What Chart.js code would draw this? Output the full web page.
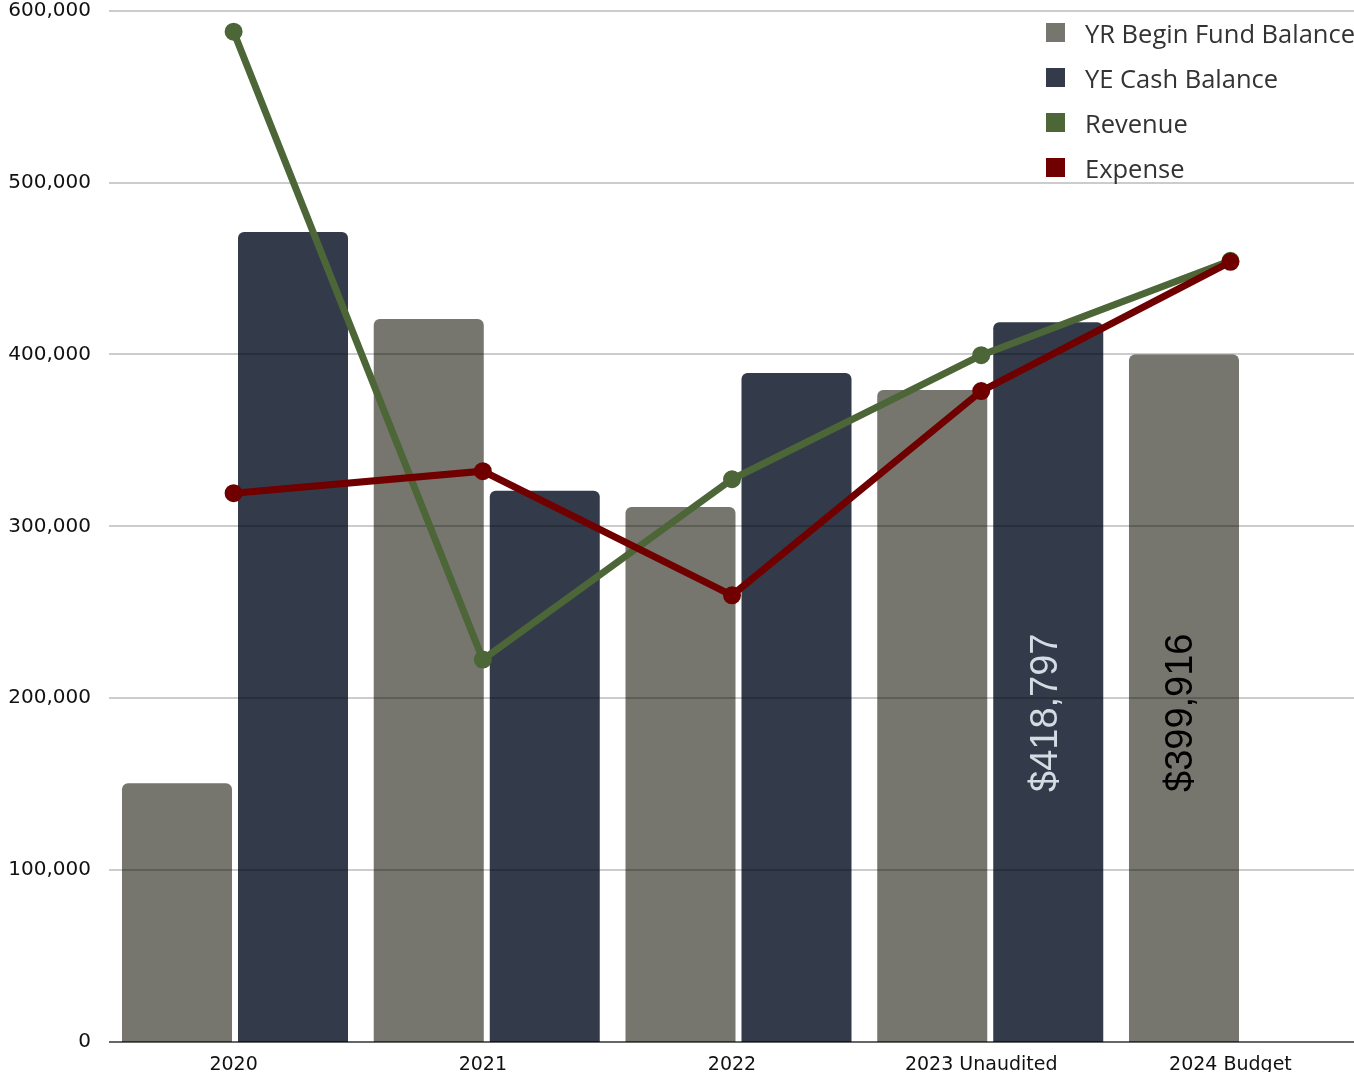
<!DOCTYPE html>
<html>
<head>
<meta charset="utf-8">
<title>Fund Balance</title>
<script src="https://cdn.jsdelivr.net/npm/chart.js@4.4.1/dist/chart.umd.min.js"></script>
<style>
  html, body { margin: 0; padding: 0; background: #fff; overflow: hidden; }
  #wrap { position: relative; width: 1354px; height: 1072px; overflow: hidden; }
  #chart { position: absolute; left: 0; top: 0; }
  #legend { position: absolute; left: 1046px; top: 10px; margin: 0; padding: 0; list-style: none;
            font-family: "Open Sans", sans-serif; font-size: 25.5px; color: #333; }
  #legend li { height: 45px; display: flex; align-items: center; white-space: nowrap; }
  #legend .box { width: 19px; height: 19px; margin-right: 20px; flex: none; }
</style>
</head>
<body>
<div id="wrap">
  <canvas id="chart" width="1368" height="1072"></canvas>
  <ul id="legend"></ul>
</div>
<script>
const years = ["2020", "2021", "2022", "2023 Unaudited", "2024 Budget"];
const beginFund = [150600, 420600, 311200, 379300, 399916];
const cashBalance = [471200, 320700, 389200, 418797, null];
const revenue = [587800, 222500, 327400, 399600, 454500];
const expense = [319300, 332100, 259900, 378700, 453900];
const yTicks = [0, 100000, 200000, 300000, 400000, 500000, 600000];

const colors = {
    begin: "#76766f",
    cash: "#333b4b",
    revenue: "#4c6638",
    expense: "#700000"
};

// bars that carry their value written upward inside them
const valueLabels = [
    { dataset: 1, index: 3, color: "#d3dbe3" },
    { dataset: 0, index: 4, color: "#000000" }
];

let ctx = document.getElementById("chart").getContext("2d");
Chart.defaults.font.family = "'DejaVu Sans', sans-serif";
Chart.defaults.color = "#111";

// every series sits on a numeric year-index axis; each bar series gets its own shifted axis
function indexed(values) {
    return values.map((v, i) => ({ x: i, y: v }));
}

// one integer tick per year
function yearTicks(axis) {
    axis.ticks = years.map((_, i) => ({ value: i }));
}

// a year-index axis that stays invisible and takes no room
function hiddenAxis(min, max) {
    return {
        type: "linear",
        position: "bottom",
        offset: false,
        min: min,
        max: max,
        grid: { display: false, drawTicks: false },
        border: { display: false },
        ticks: { display: false },
        afterBuildTicks: yearTicks,
        afterFit(axis) { axis.height = 0; }
    };
}

// value labels and horizontal rules go over the bars but under the lines
const overlay = {
    id: "overlay",
    afterDatasetDraw(chart, args) {
        if (args.index !== 0) return;
        const c = chart.ctx;
        const area = chart.chartArea;
        const y = chart.scales.y;

        c.save();
        c.font = "38px 'Liberation Sans', sans-serif";
        c.textAlign = "left";
        c.textBaseline = "middle";
        valueLabels.forEach((lab) => {
            const bar = chart.getDatasetMeta(lab.dataset).data[lab.index];
            const value = chart.data.datasets[lab.dataset].data[lab.index].y;
            c.save();
            c.translate(bar.x - 2, y.getPixelForValue(0) - 250);
            c.rotate(-Math.PI / 2);
            c.fillStyle = lab.color;
            c.fillText("$" + value.toLocaleString("en-US"), 0, 0);
            c.restore();
        });

        c.lineWidth = 2;
        yTicks.forEach((v) => {
            const py = Math.round(y.getPixelForValue(v));
            c.strokeStyle = v === 0 ? "rgba(0,0,0,0.6)" : "rgba(0,0,0,0.2)";
            c.beginPath();
            c.moveTo(area.left, py);
            c.lineTo(area.right, py);
            c.stroke();
        });
        c.restore();
    }
};

const barStyle = {
    order: 2,
    grouped: false,
    categoryPercentage: 0.437,
    barPercentage: 1,
    borderRadius: { topLeft: 6, topRight: 6 },
    borderSkipped: "start"
};

const lineStyle = {
    type: "line",
    xAxisID: "xl",
    borderWidth: 7,
    pointRadius: 8,
    pointBorderWidth: 2,
    tension: 0
};

const chart = new Chart(ctx, {
    type: "bar",
    data: {
        labels: years,
        datasets: [
            Object.assign({
                label: "YR Begin Fund Balance",
                data: indexed(beginFund),
                backgroundColor: colors.begin,
                xAxisID: "xg"
            }, barStyle),
            Object.assign({
                label: "YE Cash Balance",
                data: indexed(cashBalance),
                backgroundColor: colors.cash,
                xAxisID: "xn"
            }, barStyle),
            Object.assign({
                label: "Revenue",
                data: indexed(revenue),
                borderColor: colors.revenue,
                backgroundColor: colors.revenue,
                pointBackgroundColor: colors.revenue,
                order: 1
            }, lineStyle),
            Object.assign({
                label: "Expense",
                data: indexed(expense),
                borderColor: colors.expense,
                backgroundColor: colors.expense,
                pointBackgroundColor: colors.expense,
                order: 0
            }, lineStyle)
        ]
    },
    options: {
        responsive: false,
        animation: false,
        layout: { padding: 0, autoPadding: false },
        plugins: {
            legend: { display: false },
            tooltip: { enabled: false }
        },
        scales: {
            xg: hiddenAxis(-0.2701, 4.7309),
            xn: hiddenAxis(-0.7309, 4.2701),
            xl: {
                type: "linear",
                position: "bottom",
                offset: false,
                min: -0.5,
                max: 4.552,
                grid: { display: false, drawTicks: false },
                border: { display: false },
                afterBuildTicks: yearTicks,
                ticks: {
                    padding: 12,
                    font: { size: 19 },
                    maxRotation: 0,
                    autoSkip: false,
                    callback: (value) => years[value]
                },
                afterFit(axis) { axis.height = 30; }
            },
            y: {
                min: 0,
                max: 600000,
                grid: { display: false, drawTicks: false },
                border: { display: false },
                afterBuildTicks(axis) {
                    axis.ticks = yTicks.map((v) => ({ value: v }));
                },
                ticks: {
                    padding: 18,
                    font: { size: 20 },
                    callback: (value) => value.toLocaleString("en-US")
                },
                afterFit(axis) {
                    axis.width = 109;
                    axis.paddingTop = 10.7;
                    axis.paddingBottom = 0;
                }
            }
        }
    },
    plugins: [overlay]
});

// legend on the upper right, built from the datasets
const legend = document.getElementById("legend");
chart.data.datasets.forEach((ds) => {
    const li = document.createElement("li");
    const box = document.createElement("span");
    box.className = "box";
    box.style.background = ds.backgroundColor;
    li.appendChild(box);
    li.appendChild(document.createTextNode(ds.label));
    legend.appendChild(li);
});
</script>
</body>
</html>
